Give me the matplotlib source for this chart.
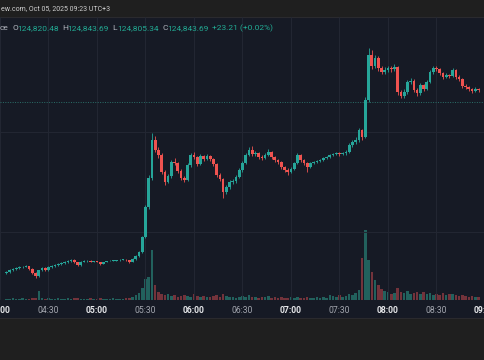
import matplotlib
matplotlib.use("Agg")
import matplotlib.pyplot as plt
import numpy as np
from matplotlib.patches import Rectangle

plt.rcParams['font.family'] = ['Roboto', 'DejaVu Sans']

# ---------------- data (2-minute candles starting 04:04, UTC+3) ----------------
start_minute = 244          # 04:04 expressed in minutes after midnight
bar_minutes = 2

closes = [122600, 122620, 122630, 122640, 122650, 122655, 122660, 122630, 122590, 122560,
          122620, 122640, 122620, 122650, 122660, 122670, 122680, 122690, 122700, 122710,
          122720, 122700, 122670, 122700, 122710, 122712, 122705, 122710, 122700, 122680,
          122700, 122710, 122712, 122715, 122720, 122722, 122725, 122720, 122700, 122730,
          122760, 122800, 122950, 123250, 123540, 123920, 123820, 123770, 123600, 123500,
          123560, 123700, 123690, 123610, 123540, 123520, 123670, 123770, 123750, 123680,
          123760, 123730, 123760, 123730, 123680, 123570, 123530, 123400, 123450, 123500,
          123510, 123550, 123620, 123690, 123770, 123820, 123780, 123790, 123750, 123740,
          123770, 123800, 123750, 123720, 123700, 123650, 123620, 123600, 123630, 123690,
          123770, 123720, 123690, 123650, 123690, 123700, 123710, 123720, 123740, 123750,
          123770, 123780, 123790, 123780, 123790, 123800, 123870, 123900, 123920, 124020,
          123950, 124320, 124770, 124660, 124740, 124640, 124600, 124620, 124640, 124630,
          124650, 124400, 124360, 124400, 124500, 124510, 124420, 124390, 124470, 124430,
          124500, 124600, 124640, 124630, 124590, 124550, 124570, 124560, 124620, 124550,
          124530, 124460, 124450, 124430, 124410, 124430, 124420]

opens = [122590] + closes[:-1]

highs = [122615, 122630, 122640, 122650, 122660, 122665, 122672, 122665, 122640, 122600,
         122625, 122650, 122655, 122658, 122668, 122676, 122688, 122698, 122706, 122716,
         122728, 122726, 122705, 122706, 122716, 122718, 122716, 122715, 122714, 122705,
         122705, 122715, 122718, 122720, 122725, 122728, 122730, 122730, 122724, 122736,
         122768, 122815, 122965, 123270, 123570, 123990, 123960, 123850, 123790, 123620,
         123580, 123720, 123740, 123700, 123630, 123560, 123690, 123790, 123800, 123760,
         123780, 123775, 123780, 123770, 123745, 123690, 123590, 123545, 123470, 123520,
         123530, 123570, 123640, 123710, 123790, 123850, 123860, 123810, 123805, 123770,
         123790, 123830, 123815, 123765, 123735, 123710, 123665, 123640, 123650, 123705,
         123790, 123780, 123735, 123700, 123705, 123715, 123725, 123735, 123755, 123765,
         123785, 123795, 123805, 123800, 123805, 123820, 123890, 123925, 123950, 124045,
         124035, 124350, 124840, 124820, 124770, 124760, 124660, 124650, 124660, 124665,
         124680, 124660, 124420, 124430, 124520, 124540, 124530, 124440, 124490, 124485,
         124520, 124620, 124660, 124660, 124645, 124600, 124590, 124585, 124640, 124635,
         124570, 124545, 124480, 124465, 124445, 124450, 124445]

lows = [122580, 122595, 122615, 122625, 122635, 122645, 122650, 122620, 122580, 122545,
        122555, 122610, 122612, 122615, 122645, 122655, 122665, 122675, 122685, 122695,
        122705, 122695, 122662, 122665, 122696, 122705, 122700, 122700, 122696, 122672,
        122676, 122696, 122706, 122708, 122710, 122715, 122718, 122714, 122692, 122696,
        122725, 122752, 122795, 122940, 123230, 123520, 123800, 123740, 123580, 123470,
        123490, 123545, 123670, 123590, 123520, 123500, 123510, 123655, 123730, 123660,
        123670, 123715, 123720, 123715, 123665, 123550, 123510, 123340, 123380, 123435,
        123480, 123495, 123540, 123605, 123680, 123760, 123760, 123765, 123735, 123720,
        123730, 123760, 123735, 123705, 123685, 123635, 123600, 123575, 123590, 123620,
        123680, 123705, 123675, 123600, 123640, 123680, 123690, 123700, 123710, 123730,
        123740, 123760, 123770, 123765, 123770, 123775, 123790, 123855, 123880, 123905,
        123925, 123940, 124300, 124630, 124640, 124610, 124580, 124580, 124600, 124600,
        124610, 124370, 124340, 124345, 124385, 124480, 124400, 124360, 124370, 124410,
        124420, 124490, 124585, 124610, 124575, 124535, 124540, 124540, 124550, 124530,
        124510, 124445, 124430, 124415, 124395, 124400, 124405]

volumes = [1, 1, 2, 1, 1, 2, 1, 1, 2, 2,
           9, 2, 1, 2, 1, 1, 2, 1, 1, 2,
           1, 2, 2, 1, 1, 1, 2, 1, 1, 2,
           1, 1, 1, 2, 1, 1, 1, 2, 2, 3,
           5, 7, 12, 21, 23, 50, 15, 8, 6, 5,
           6, 4, 5, 3, 4, 5, 4, 3, 6, 4,
           3, 4, 3, 3, 4, 5, 3, 6, 4, 3,
           3, 2, 3, 4, 3, 5, 3, 3, 2, 3,
           3, 4, 2, 3, 2, 3, 2, 2, 3, 2,
           3, 2, 2, 3, 2, 2, 3, 2, 3, 2,
           5, 4, 3, 5, 3, 4, 6, 5, 7, 10,
           42, 70, 40, 28, 20, 15, 11, 9, 8, 6,
           7, 12, 8, 7, 9, 6, 7, 8, 6, 8,
           6, 7, 5, 6, 5, 7, 5, 6, 6, 5,
           4, 5, 4, 3, 4, 3, 3]

last_price_line = 124300

tick_minutes = [240, 270, 300, 330, 360, 390, 420, 450, 480, 510, 540]
tick_labels = ["04:00", "04:30", "05:00", "05:30", "06:00", "06:30",
               "07:00", "07:30", "08:00", "08:30", "09:00"]
grid_prices = [123000, 124000]

header_text = "ew.com, Oct 05, 2025 09:23 UTC+3"
legend_parts = [("ce", "lab"), ("O", "lab"), ("124,820.48", "val"), ("H", "lab"),
                ("124,843.69", "val"), ("L", "lab"), ("124,805.34", "val"),
                ("C", "lab"), ("124,843.69", "val"), ("+23.21 (+0.02%)", "val")]
legend_x = [0, 12.5, 17, 62.5, 67, 112.5, 117, 162.5, 167, 212]

# ---------------- layout ----------------
W, H = 485, 360
pane_top, pane_bot, axis_bot = 17, 300, 318
BG_PANE = "#161a25"
BG_OUT = "#1f1f1f"
GRID = "#232733"
UP = "#26a69a"
DOWN = "#ef5350"
UP_VOL = "#22615d"
DOWN_VOL = "#73333b"

fig = plt.figure(figsize=(W / 100, H / 100), dpi=100)
fig.patch.set_facecolor(BG_OUT)

# navy region (pane + time axis)
fig.patches.append(Rectangle((0, 1 - axis_bot / H), 1, (axis_bot - pane_top) / H,
                             transform=fig.transFigure, facecolor=BG_PANE,
                             edgecolor="none", zorder=-5))
fig.lines.append(plt.Line2D([0, 1], [1 - axis_bot / H] * 2, transform=fig.transFigure,
                            color="#2a2a2e", lw=0.8, zorder=-4))
fig.lines.append(plt.Line2D([0, 1], [1 - pane_top / H] * 2, transform=fig.transFigure,
                            color="#2a2a2e", lw=0.8, zorder=-4))

ax = fig.add_axes([0, 1 - pane_bot / H, 1, (pane_bot - pane_top) / H])
ax.patch.set_alpha(0)

t = start_minute + bar_minutes * np.arange(len(closes))
x0_min = 300 - 93 * 0.6
x1_min = 300 + (W - 93) * 0.6
ax.set_xlim(x0_min, x1_min)
ax.set_ylim(122320, 125150)

# volume (overlay, bottom of pane)
vax = ax.twinx()
vax.set_ylim(0, max(volumes) * (pane_bot - pane_top) / 70)
vcol = [UP_VOL if cc >= oo else DOWN_VOL for oo, cc in zip(opens, closes)]
vax.bar(t, volumes, width=1.6, color=vcol, zorder=1, linewidth=0)
vax.set_axis_off()
ax.set_zorder(vax.get_zorder() + 1)

# grid
for m in tick_minutes:
    ax.axvline(m, color=GRID, lw=0.7, zorder=0)
for p in grid_prices:
    ax.axhline(p, color=GRID, lw=0.7, zorder=0)

ax.axhline(last_price_line, color="#2b6f69", lw=0.7, ls=(0, (1, 1.5)), zorder=1)

# candles
o = np.array(opens); c = np.array(closes); hi = np.array(highs); lo = np.array(lows)
colors = np.where(c >= o, UP, DOWN)
ax.vlines(t, lo, hi, colors=colors, lw=0.6, zorder=3)
body_bot = np.minimum(o, c)
body_h = np.maximum(np.abs(c - o), 4)
ax.bar(t, body_h, bottom=body_bot, width=1.65, color=colors, zorder=4, linewidth=0)

for s in ax.spines.values():
    s.set_visible(False)
ax.set_yticks([])
ax.set_xticks(tick_minutes)
ax.set_xticklabels(tick_labels)
ax.tick_params(axis="x", length=0, pad=4.5, labelsize=6.2)
for lbl, txt in zip(ax.get_xticklabels(), tick_labels):
    if txt.endswith(":00"):
        lbl.set_fontweight("bold")
        lbl.set_color("#e6e7ea")
    else:
        lbl.set_color("#a3a6af")

# header
fig.text(1 / W, 1 - 8.5 / H, header_text, color="#cfcfcf", fontsize=5.0,
         va="center", ha="left")

for (txt, kind), px in zip(legend_parts, legend_x):
    fig.text(px / W, 1 - 28.5 / H, txt, fontsize=6.0, va="center", ha="left",
             color="#b2b5be" if kind == "lab" else "#22ab94")

fig.savefig("out.png", dpi=100, facecolor=fig.get_facecolor())
